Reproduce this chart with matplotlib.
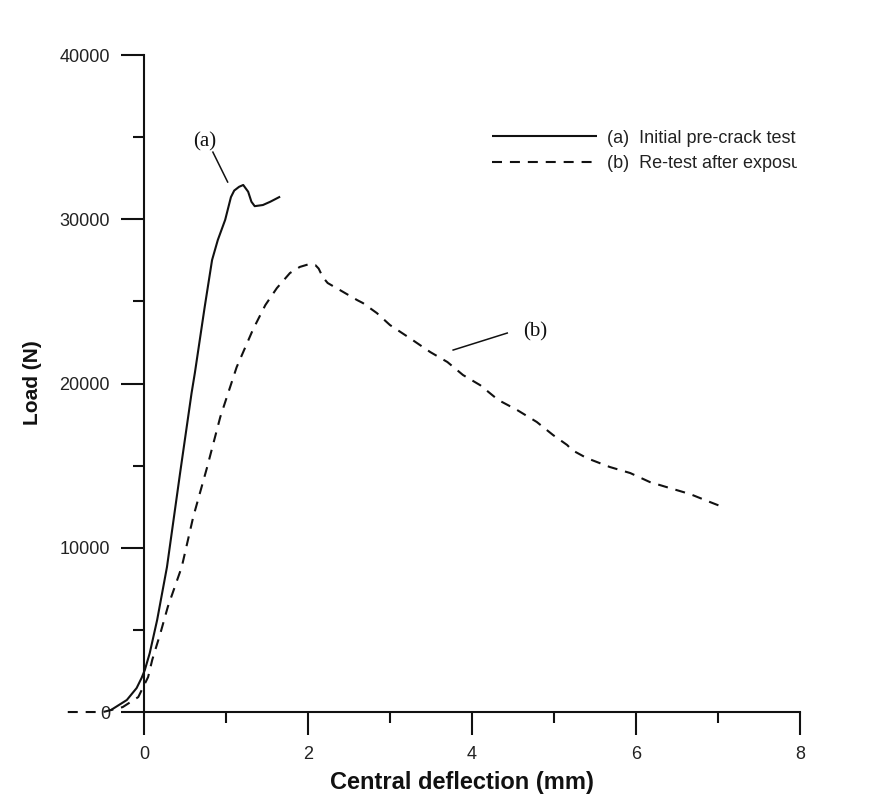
import matplotlib
matplotlib.use("Agg")
import matplotlib.pyplot as plt
from matplotlib.ticker import FixedLocator
from matplotlib.transforms import Bbox, TransformedBbox

# Load-deflection curves (deflection in mm, load in N)
defl_a = [-0.41, -0.21, -0.09, -0.03, 0.01, 0.07, 0.16, 0.28, 0.44, 0.58, 0.62,
          0.74, 0.83, 0.90, 0.99, 1.06, 1.10, 1.16, 1.21, 1.27, 1.31, 1.35,
          1.45, 1.54, 1.66]
load_a = [100, 730, 1460, 2070, 2560, 3590, 5600, 8830, 14550, 19420, 20640,
          24660, 27520, 28740, 29970, 31350, 31750, 31980, 32090, 31680, 31070,
          30800, 30870, 31070, 31380]

defl_b = [-0.93, -0.50, -0.26, -0.07, -0.01, 0.05, 0.10, 0.20, 0.29, 0.46, 0.60,
          0.77, 0.93, 1.13, 1.33, 1.48, 1.62, 1.78, 1.90, 2.02, 2.09, 2.13, 2.18,
          2.24, 2.39, 2.60, 2.67, 2.84, 3.00, 3.24, 3.49, 3.70, 3.89, 4.10, 4.32,
          4.55, 4.79, 4.99, 5.16, 5.22, 5.40, 5.68, 5.93, 6.17, 6.41, 6.66, 6.90,
          7.09]
load_b = [0, 0, 300, 910, 1520, 2130, 3170, 4800, 6400, 8830, 11870,
          14910, 17960, 21000, 23300, 24780, 25810, 26730, 27100, 27280, 27210,
          27000, 26480, 26120, 25690, 25080, 24900, 24290, 23560, 22770, 21920,
          21310, 20520, 19900, 19000, 18390, 17660, 16860, 16260, 15950, 15460,
          14920, 14550, 14000, 13640, 13270, 12790, 12420]

label_a = "(a)  Initial pre-crack test"
label_b = "(b)  Re-test after exposure"

x_ticks = [0, 2, 4, 6, 8]
y_ticks = [0, 10000, 20000, 30000, 40000]

# Callout positions: (text position, leader start, leader end)
callout_a = ((0.74, 34700), (0.84, 34090), (1.02, 32270))
callout_b = ((4.77, 23140), (3.77, 22040), (4.43, 23075))

ink = "#111111"
sans = ["Liberation Sans", "DejaVu Sans"]
serif = ["Liberation Serif", "DejaVu Serif"]

fig = plt.figure(figsize=(8.71, 8.05), dpi=100)
ax = fig.add_axes([0.0712, 0.0747, 0.8755, 0.8773])
ax.set_xlim(-1.0, 8.3)
ax.set_ylim(-2000, 41000)

line_a, = ax.plot(defl_a, load_a, color=ink, lw=1.5, solid_capstyle="butt")
line_b, = ax.plot(defl_b, load_b, color=ink, lw=1.5,
                  linestyle=(0, (4.8, 3.8)))

# Axes cross at the origin
for side in ("top", "right"):
    ax.spines[side].set_visible(False)
ax.spines["left"].set_position(("data", 0))
ax.spines["bottom"].set_position(("data", 0))
ax.spines["left"].set_bounds(0, 40000)
ax.spines["bottom"].set_bounds(0, 8)
for side in ("left", "bottom"):
    ax.spines[side].set_linewidth(1.5)
    ax.spines[side].set_color(ink)

ax.xaxis.set_major_locator(FixedLocator(x_ticks))
ax.yaxis.set_major_locator(FixedLocator(y_ticks))
ax.xaxis.set_minor_locator(FixedLocator([1, 3, 5, 7]))
ax.yaxis.set_minor_locator(FixedLocator([5000, 15000, 25000, 35000]))
ax.tick_params(which="major", direction="out", length=16.5, width=1.5,
               color=ink, labelsize=13, labelcolor="#222222")
ax.tick_params(which="minor", direction="out", length=8, width=1.5, color=ink)
ax.tick_params(axis="y", which="major", pad=8)
ax.tick_params(axis="x", which="major", pad=8)
ax.set_xticklabels([str(v) for v in x_ticks], family=sans)
ax.set_yticklabels([str(v) for v in y_ticks], family=sans)

ax.set_xlabel("Central deflection (mm)", family=sans, fontsize=17,
              fontweight="bold", color=ink)
ax.xaxis.set_label_coords(0.5245, -0.0526)
ax.xaxis.label.set_va("center")
ax.set_ylabel("Load (N)", family=sans, fontsize=15, fontweight="bold",
              color=ink)
ax.yaxis.set_label_coords(-0.0393, 0.5124)
ax.yaxis.label.set_va("center")

# Curve callouts
for (txt_pos, p0, p1), name in ((callout_a, "(a)"), (callout_b, "(b)")):
    ax.plot([p0[0], p1[0]], [p0[1], p1[1]], color=ink, lw=1.1)
    ax.text(txt_pos[0], txt_pos[1], name, family=serif, fontsize=15,
            ha="center", va="center", color=ink)

leg = ax.legend([line_a, line_b], [label_a, label_b], loc="upper left",
                bbox_to_anchor=(0.5639, 0.871), frameon=False,
                prop={"family": sans, "size": 13}, handlelength=5.81,
                handletextpad=0.55, borderpad=0, borderaxespad=0,
                labelspacing=0.48)
clip = TransformedBbox(Bbox.from_extents(0, 0, 797 / 871, 1), fig.transFigure)
for t in leg.get_texts():
    t.set_color("#222222")
    t.set_clip_box(clip)
    t.set_clip_on(True)

fig.savefig("out.png", dpi=100, facecolor="white")
